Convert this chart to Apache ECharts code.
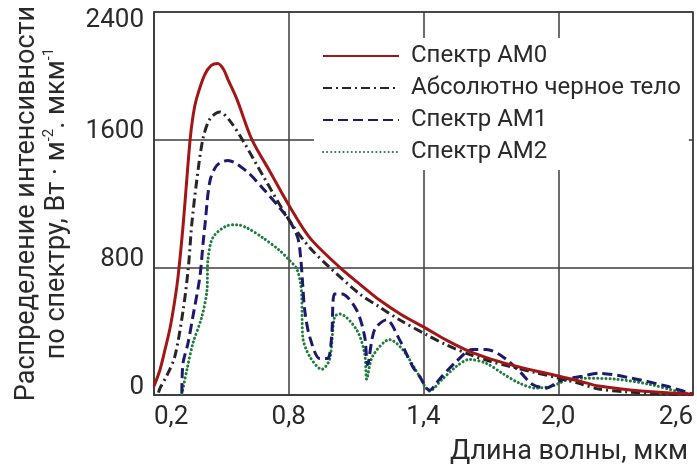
<!DOCTYPE html>
<html>
<head>
<meta charset="utf-8">
<script src="https://cdn.jsdelivr.net/npm/echarts@6/dist/echarts.min.js"></script>
<style>
  html, body { margin: 0; padding: 0; background: #fff; }
  #chart { width: 697px; height: 466px; }
</style>
</head>
<body>
<div id="chart"></div>
<script>
// длина волны, мкм / интенсивность, Вт·м-2·мкм-1
const am0Wave = [0.2, 0.227, 0.25, 0.27, 0.29, 0.307, 0.33, 0.36, 0.375, 0.39, 0.425, 0.455, 0.484, 0.51, 0.529, 0.569, 0.636, 0.716, 0.8, 0.893, 1.027, 1.116, 1.204, 1.3, 1.413, 1.5, 1.604, 1.7, 1.782, 1.9, 2.004, 2.1, 2.18, 2.3, 2.4, 2.5, 2.6];
const am0Values = [55, 160, 290, 410, 570, 740, 1070, 1590, 1760, 1860, 2005, 2065, 2077, 2040, 1978, 1854, 1600, 1401, 1191, 986, 800, 695, 595, 505, 416, 345, 273, 225, 192, 150, 118, 85, 56, 35, 22, 12, 5];

const bbWave = [0.22, 0.227, 0.26, 0.293, 0.33, 0.353, 0.368, 0.39, 0.418, 0.449, 0.493, 0.538, 0.596, 0.684, 0.804, 0.893, 0.982, 1.116, 1.204, 1.3, 1.413, 1.5, 1.604, 1.7, 1.782, 1.9, 2.004, 2.1, 2.18, 2.3, 2.45, 2.6];
const bbValues = [15, 43, 130, 242, 533, 800, 1067, 1340, 1606, 1730, 1774, 1718, 1594, 1377, 1091, 924, 800, 633, 552, 465, 378, 315, 254, 210, 180, 140, 105, 70, 37, 20, 8, 2];

const am1Wave = [0.324, 0.329, 0.351, 0.373, 0.404, 0.418, 0.427, 0.449, 0.48, 0.529, 0.613, 0.684, 0.76, 0.804, 0.84, 0.853, 0.862, 0.871, 0.893, 0.938, 0.973, 0.991, 1.004, 1.036, 1.102, 1.138, 1.151, 1.182, 1.236, 1.293, 1.351, 1.382, 1.427, 1.471, 1.547, 1.618, 1.68, 1.751, 1.827, 1.884, 1.947, 2.004, 2.049, 2.107, 2.182, 2.329, 2.48, 2.6];
const am1Values = [12, 198, 322, 490, 738, 943, 1067, 1340, 1439, 1470, 1401, 1296, 1172, 1091, 986, 862, 695, 533, 366, 229, 229, 366, 633, 633, 533, 366, 190, 409, 471, 347, 180, 118, 30, 99, 211, 285, 285, 242, 149, 68, 43, 87, 105, 118, 136, 105, 56, 5];

const am2Wave = [0.324, 0.347, 0.373, 0.413, 0.436, 0.44, 0.462, 0.524, 0.569, 0.613, 0.684, 0.76, 0.804, 0.836, 0.853, 0.858, 0.862, 0.893, 0.947, 0.982, 1.004, 1.027, 1.102, 1.138, 1.147, 1.173, 1.249, 1.307, 1.382, 1.427, 1.484, 1.547, 1.604, 1.68, 1.751, 1.827, 1.902, 1.973, 2.004, 2.049, 2.107, 2.257, 2.404, 2.524, 2.6];
const am2Values = [6, 161, 322, 490, 657, 843, 986, 1060, 1067, 1048, 986, 905, 843, 790, 695, 614, 366, 242, 161, 223, 490, 508, 409, 260, 99, 242, 347, 285, 118, 25, 99, 180, 223, 198, 136, 74, 43, 56, 74, 99, 105, 99, 68, 25, 3];

const seriesNames = ['Спектр АМ0', 'Абсолютно черное тело', 'Спектр АМ1', 'Спектр АМ2'];
const xTicks = [0.2, 0.8, 1.4, 2.0, 2.6];
const yTicks = [0, 800, 1600, 2400];

const FONT = 'Roboto';
const GRID_COLOR = '#3c3c3c';
const TEXT_COLOR = '#2a2a2a';

function pairs(xs, ys) {
  return xs.map((x, i) => [x, ys[i]]);
}

const chart = echarts.init(document.getElementById('chart'));

chart.setOption({
  animation: false,
  textStyle: { fontFamily: FONT },
  grid: {
    left: 154,
    right: 4,
    top: 12,
    bottom: 67,
    show: true,
    borderColor: GRID_COLOR,
    borderWidth: 1.5,
  },
  legend: {
    data: seriesNames,
    orient: 'vertical',
    left: 314,
    top: 38,
    padding: [6, 8, 6, 8],
    backgroundColor: '#fff',
    itemWidth: 76,
    itemHeight: 14,
    itemGap: 8,
    itemStyle: { opacity: 0 },
    textStyle: {
      fontFamily: FONT,
      fontSize: 24,
      color: TEXT_COLOR,
      padding: [0, 0, 0, 7],
    },
  },
  xAxis: {
    type: 'value',
    min: xTicks[0],
    max: xTicks[xTicks.length - 1],
    interval: 0.6,
    name: 'Длина волны, мкм',
    nameLocation: 'end',
    nameGap: -5,
    nameTextStyle: {
      fontFamily: FONT,
      fontSize: 27,
      color: TEXT_COLOR,
      align: 'right',
      verticalAlign: 'top',
      padding: [44, 0, 0, 0],
    },
    axisLine: { show: true, lineStyle: { color: GRID_COLOR, width: 1.5 } },
    axisTick: { show: false },
    axisLabel: {
      fontFamily: FONT,
      fontSize: 26,
      color: TEXT_COLOR,
      margin: 9,
      alignMinLabel: 'left',
      alignMaxLabel: 'right',
      formatter: (v) => v.toFixed(1).replace('.', ','),
    },
    splitLine: { show: true, lineStyle: { color: GRID_COLOR, width: 1.5 } },
  },
  yAxis: {
    type: 'value',
    min: yTicks[0],
    max: yTicks[yTicks.length - 1],
    interval: 800,
    name: 'Распределение интенсивности\nпо спектру, Вт · м{sup|-2}. мкм{sup|-1}',
    nameLocation: 'middle',
    nameRotate: 90,
    nameGap: 82,
    nameTextStyle: {
      fontFamily: FONT,
      fontSize: 27,
      lineHeight: 30,
      color: TEXT_COLOR,
      rich: {
        sup: { fontFamily: FONT, fontSize: 15, verticalAlign: 'top', lineHeight: 30, color: TEXT_COLOR },
      },
    },
    axisLine: { show: true, lineStyle: { color: GRID_COLOR, width: 1.5 } },
    axisTick: { show: false },
    axisLabel: {
      fontFamily: FONT,
      fontSize: 26,
      lineHeight: 16,
      color: TEXT_COLOR,
      margin: 10,
      verticalAlign: 'bottom',
      verticalAlignMaxLabel: 'top',
      formatter: (v) => String(v),
    },
    splitLine: { show: true, lineStyle: { color: GRID_COLOR, width: 1.5 } },
  },
  series: [
    {
      name: seriesNames[0],
      type: 'line',
      symbol: 'none',
      smooth: 0.3,
      z: 5,
      lineStyle: { color: '#a31616', width: 3 },
      itemStyle: { color: '#a31616' },
      data: pairs(am0Wave, am0Values),
    },
    {
      name: seriesNames[1],
      type: 'line',
      symbol: 'none',
      smooth: 0.3,
      z: 4,
      lineStyle: { color: '#262626', width: 3, type: [9, 4, 2, 4] },
      itemStyle: { color: '#262626' },
      data: pairs(bbWave, bbValues),
    },
    {
      name: seriesNames[2],
      type: 'line',
      symbol: 'none',
      smooth: 0.3,
      z: 3,
      lineStyle: { color: '#1c1a6c', width: 3, type: [10, 5] },
      itemStyle: { color: '#1c1a6c' },
      data: pairs(am1Wave, am1Values),
    },
    {
      name: seriesNames[3],
      type: 'line',
      symbol: 'none',
      smooth: 0.3,
      z: 2,
      lineStyle: { color: '#1f7d3c', width: 3, type: [0.1, 4], cap: 'round' },
      itemStyle: { color: '#1f7d3c' },
      data: pairs(am2Wave, am2Values),
    },
  ],
});
</script>
</body>
</html>
